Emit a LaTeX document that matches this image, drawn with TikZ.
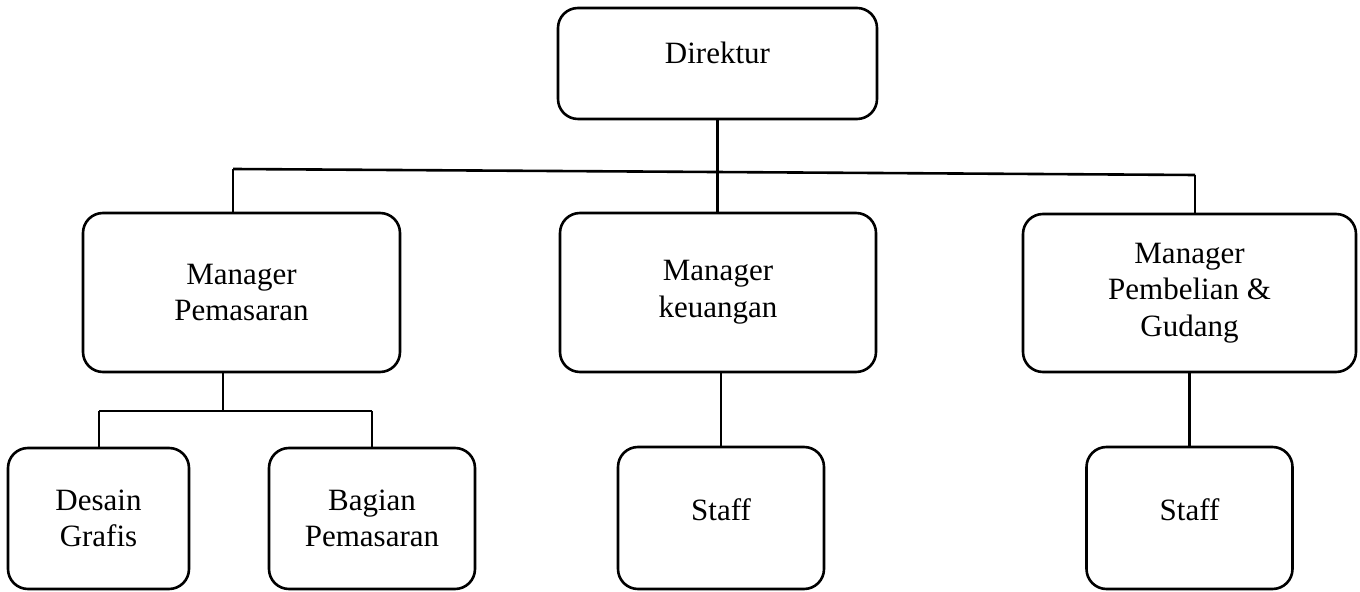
\documentclass[tikz,border=0pt]{standalone}
\usepackage{fontspec}
\setmainfont{Liberation Serif}
\usepackage{tikz}

\begin{document}
\begin{tikzpicture}[x=0.5pt,y=-0.5pt,line width=1.3pt,
  box/.style={draw,rounded corners=10pt,align=center,inner sep=0pt,
    font=\fontsize{15.5}{18.3}\selectfont}]

\useasboundingbox (0,0) rectangle (1360,592);

\node [box,minimum width=159.5pt,minimum height=55.5pt,text depth=10.5pt] (dir) at (717.5,63.5) {Direktur};

\node [box,minimum width=158.5pt,minimum height=79.5pt] (mpm) at (241.5,292.5) {Manager\\Pemasaran};
\node [box,minimum width=158pt,minimum height=79.5pt] (keu) at (718,292.5) {Manager\\keuangan};
\node [box,minimum width=166.5pt,minimum height=79pt] (pbl) at (1189.5,293) {Manager\\Pembelian \&\\Gudang};

\node [box,minimum width=90.5pt,minimum height=70.5pt] (dg) at (98.5,518.5) {Desain\\Grafis};
\node [box,minimum width=103pt,minimum height=70.5pt] (bp) at (372,518.5) {Bagian\\Pemasaran};
\node [box,minimum width=103pt,minimum height=71pt,text depth=8pt] (st1) at (721,518) {Staff};
\node [box,minimum width=103pt,minimum height=71pt,text depth=8pt] (st2) at (1189.5,518) {Staff};


\coordinate (barL) at (233,169);
\coordinate (barR) at (1195,175);
\draw (barL)--(barR);
\draw (barL)--(barL |- mpm.north);
\draw (barR)--(barR |- pbl.north);
\draw (dir.south)--(dir.south |- keu.north);

\coordinate (subL) at (99,411);
\coordinate (subM) at (223,411);
\coordinate (subR) at (372,411);
\draw (subL)--(subR);
\draw (subM)--(subM |- mpm.south);
\draw (subL)--(subL |- dg.north);
\draw (subR)--(bp.north);

\draw (st1.north)--(st1.north |- keu.south);
\draw (pbl.south)--(st2.north);

\end{tikzpicture}
\end{document}
